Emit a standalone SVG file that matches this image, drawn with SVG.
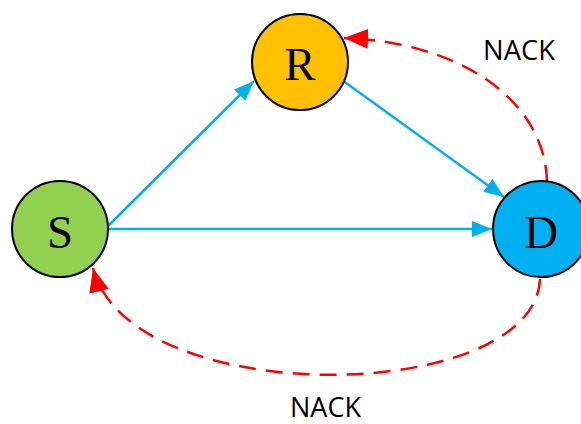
<svg xmlns="http://www.w3.org/2000/svg" width="581" height="424" viewBox="0 0 581 424">
<style>
.node{stroke:#000;stroke-width:2}
.lbl{font-family:"Liberation Serif","DejaVu Serif",serif;font-size:47px;text-anchor:middle;fill:#000}
.blue{fill:none;stroke:#00B0F0;stroke-width:2.5}
.red{fill:none;stroke:#FF0000;stroke-width:2.5;stroke-dasharray:17 10}
.nack{font-family:"Open Sans","Liberation Sans",sans-serif;font-size:27px;fill:#000}
</style>
<defs>
<marker id="ab" markerUnits="userSpaceOnUse" markerWidth="22" markerHeight="16" refX="20" refY="8" orient="auto"><path d="M0,0 L20,8 L0,16 z" fill="#00B0F0"/></marker>
<marker id="ar" markerUnits="userSpaceOnUse" markerWidth="26" markerHeight="20" refX="24" refY="10" orient="auto"><path d="M0,0 L24,10 L0,20 z" fill="#FF0000"/></marker>
</defs>
<g id="connectors">
<path class="blue" d="M107,227 L254,81" marker-end="url(#ab)"/>
<path class="blue" d="M108,229 L492,229" marker-end="url(#ab)"/>
<path class="blue" d="M342,80 L504,197" marker-end="url(#ab)"/>
<path class="red" d="M547,182 C545,100 460,42 344,38" marker-end="url(#ar)"/>
<path class="red" d="M540,279 C535,405 130,412 93,268" marker-end="url(#ar)"/>
</g>
<g id="R"><circle class="node" cx="300" cy="62" r="48" fill="#FFC000"/><text class="lbl" x="300" y="80">R</text></g>
<g id="S"><circle class="node" cx="60" cy="229" r="48" fill="#92D050"/><text class="lbl" x="60" y="248">S</text></g>
<g id="D"><circle class="node" cx="541" cy="229" r="48" fill="#00B0F0"/><text class="lbl" x="541" y="248">D</text></g>
<text class="nack" x="483" y="60" textLength="72" lengthAdjust="spacingAndGlyphs">NACK</text>
<text class="nack" x="290" y="417" textLength="71" lengthAdjust="spacingAndGlyphs">NACK</text>
</svg>
